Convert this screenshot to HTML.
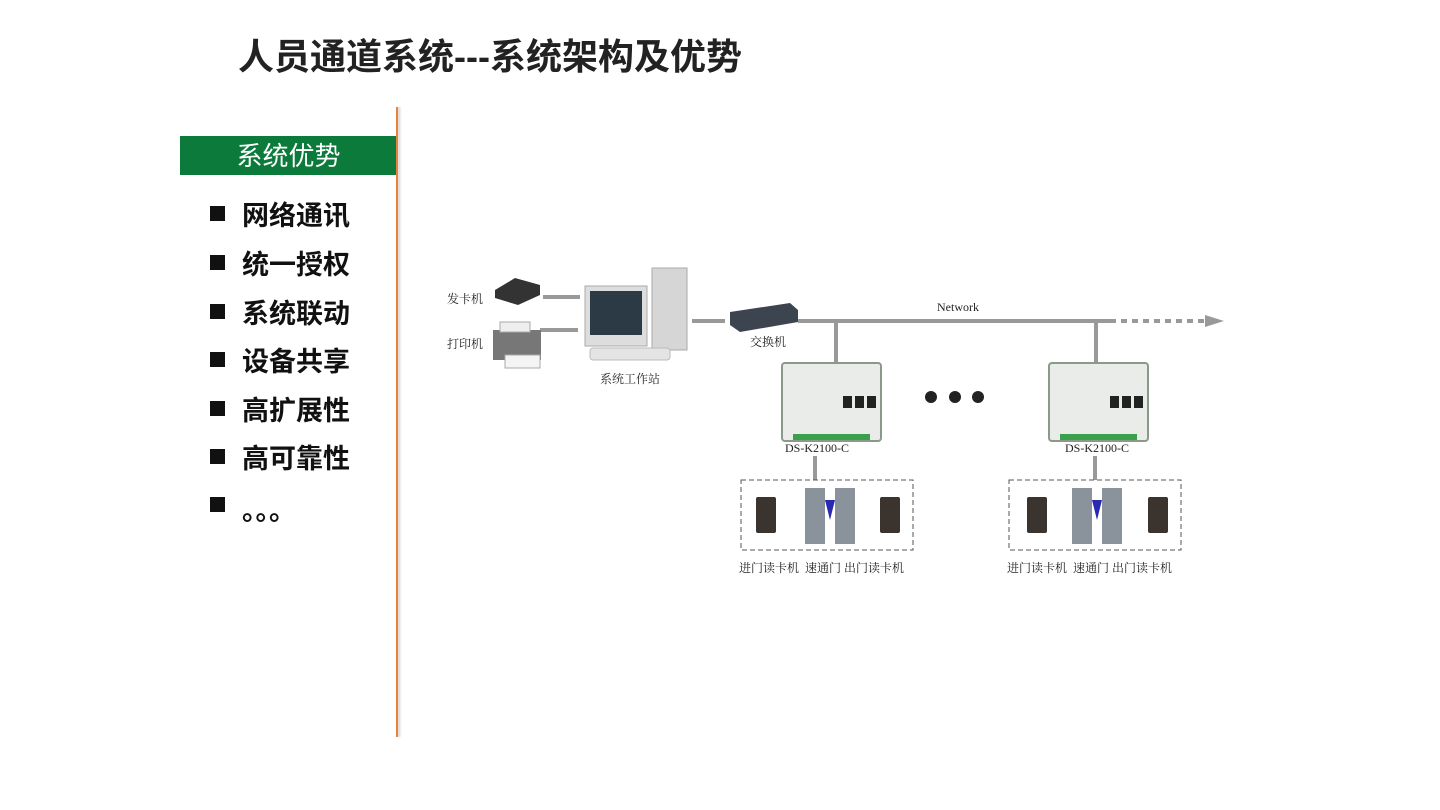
<html><head><style>
body{margin:0;width:1440px;height:810px;background:#fff;position:relative;overflow:hidden;font-family:"Liberation Sans","Noto Sans CJK SC",sans-serif}
.a{position:absolute}
.t{font-family:"Liberation Serif","Noto Serif CJK SC",serif;font-size:12px;color:#222;position:absolute;white-space:nowrap}
.b{position:absolute;left:242px;font-size:27px;font-weight:bold;color:#111}
.sq{position:absolute;left:210px;width:15px;height:15px;background:#111}
.board{position:absolute;width:97px;height:76px;background:#e9ece8;border:2px solid #8a9a8a;border-radius:4px}
.board:after{content:"";position:absolute;left:10px;right:10px;bottom:0;height:6px;background:#3aa04a}
.board i{position:absolute;top:32px;width:9px;height:12px;background:#222}
</style></head><body>
<div class="a" style="left:238px;top:28px;font-size:36px;font-weight:bold;color:#222;white-space:nowrap">人员通道系统---系统架构及优势</div>
<div class="a" style="left:180px;top:136px;width:217px;height:39px;background:#0b7a3a;color:#fff;font-size:26px;line-height:41px;text-align:center">系统优势</div>
<div class="a" style="left:396px;top:107px;width:2px;height:630px;background:#e8813a;box-shadow:2px 0 2px #ccc"></div>
<div class="sq" style="top:206px"></div><div class="b" style="top:194px">网络通讯</div>
<div class="sq" style="top:255px"></div><div class="b" style="top:243px">统一授权</div>
<div class="sq" style="top:304px"></div><div class="b" style="top:292px">系统联动</div>
<div class="sq" style="top:352px"></div><div class="b" style="top:340px">设备共享</div>
<div class="sq" style="top:401px"></div><div class="b" style="top:389px">高扩展性</div>
<div class="sq" style="top:449px"></div><div class="b" style="top:437px">高可靠性</div>
<div class="sq" style="top:497px"></div><div class="b" style="top:489px;font-family:'Noto Sans CJK SC',sans-serif">。。。</div>

<svg class="a" style="left:0;top:0" width="1440" height="810">
<g stroke="#999" stroke-width="4">
<line x1="543" y1="297" x2="580" y2="297"/><line x1="540" y1="330" x2="578" y2="330"/>
<line x1="692" y1="321" x2="725" y2="321"/><line x1="798" y1="321" x2="1110" y2="321"/>
<line x1="836" y1="321" x2="836" y2="362"/><line x1="1096" y1="321" x2="1096" y2="362"/>
<line x1="1110" y1="321" x2="1205" y2="321" stroke-dasharray="6,5"/>
<line x1="815" y1="456" x2="815" y2="480"/><line x1="1095" y1="456" x2="1095" y2="480"/>
</g>
<polygon points="1205,315 1224,321 1205,327" fill="#999"/>
<circle cx="931" cy="397" r="6" fill="#222"/><circle cx="955" cy="397" r="6" fill="#222"/><circle cx="978" cy="397" r="6" fill="#222"/>
<rect x="741" y="480" width="172" height="70" fill="none" stroke="#555" stroke-dasharray="5,3"/>
<rect x="1009" y="480" width="172" height="70" fill="none" stroke="#555" stroke-dasharray="5,3"/>
<polygon points="495,290 515,278 540,285 540,295 518,305 495,298" fill="#333"/>
<rect x="493" y="330" width="48" height="30" fill="#777"/><rect x="500" y="322" width="30" height="10" fill="#eee" stroke="#aaa"/>
<rect x="505" y="355" width="35" height="13" fill="#f4f4f4" stroke="#aaa"/>
<rect x="585" y="286" width="62" height="60" fill="#ddd" stroke="#aaa"/><rect x="590" y="291" width="52" height="44" fill="#2b3a44"/>
<rect x="652" y="268" width="35" height="82" fill="#d6d6d6" stroke="#aaa"/>
<rect x="590" y="348" width="80" height="12" rx="3" fill="#e4e4e4" stroke="#bbb"/>
<polygon points="730,312 790,303 798,310 798,322 740,332 730,325" fill="#3c4450"/>
<g fill="#3a332e"><rect x="756" y="497" width="20" height="36" rx="2"/><rect x="880" y="497" width="20" height="36" rx="2"/><rect x="1027" y="497" width="20" height="36" rx="2"/><rect x="1148" y="497" width="20" height="36" rx="2"/></g>
<g fill="#8a939c"><rect x="805" y="488" width="20" height="56"/><rect x="835" y="488" width="20" height="56"/><rect x="1072" y="488" width="20" height="56"/><rect x="1102" y="488" width="20" height="56"/></g>
<g fill="#2a2ab0"><polygon points="825,500 835,500 830,520"/><polygon points="1092,500 1102,500 1097,520"/></g>
</svg>
<div class="board" style="left:781px;top:362px"><i style="left:60px"></i><i style="left:72px"></i><i style="left:84px"></i></div>
<div class="board" style="left:1048px;top:362px"><i style="left:60px"></i><i style="left:72px"></i><i style="left:84px"></i></div>
<div class="t" style="left:447px;top:290px">发卡机</div>
<div class="t" style="left:447px;top:335px">打印机</div>
<div class="t" style="left:600px;top:370px">系统工作站</div>
<div class="t" style="left:750px;top:333px">交换机</div>
<div class="t" style="left:937px;top:300px">Network</div>
<div class="t" style="left:785px;top:441px">DS-K2100-C</div>
<div class="t" style="left:1065px;top:441px">DS-K2100-C</div>
<div class="t" style="left:739px;top:559px">进门读卡机&nbsp;&nbsp;速通门 出门读卡机</div>
<div class="t" style="left:1007px;top:559px">进门读卡机&nbsp;&nbsp;速通门 出门读卡机</div>
</body></html>
